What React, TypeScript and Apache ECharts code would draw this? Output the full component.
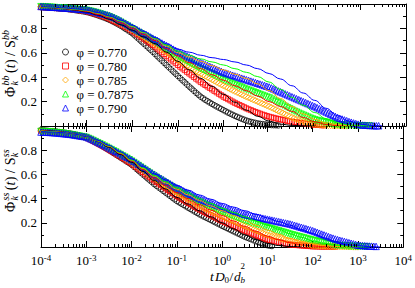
import React, { useEffect, useRef } from 'react';
import * as echarts from 'echarts';

// sampling times of the markers, as log10(t D0/db^2)
const LOG_T = [-4.00,-3.95,-3.90,-3.85,-3.80,-3.75,-3.70,-3.65,-3.60,-3.55,-3.50,-3.45,-3.40,-3.35,-3.30,-3.25,-3.20,-3.15,-3.10,-3.05,-3.00,-2.95,-2.90,-2.85,-2.80,-2.75,-2.70,-2.65,-2.60,-2.55,-2.50,-2.45,-2.40,-2.35,-2.30,-2.25,-2.20,-2.15,-2.10,-2.05,-2.00,-1.95,-1.90,-1.85,-1.80,-1.75,-1.70,-1.65,-1.60,-1.55,-1.50,-1.45,-1.40,-1.35,-1.30,-1.25,-1.20,-1.15,-1.10,-1.05,-1.00,-0.95,-0.90,-0.85,-0.80,-0.75,-0.70,-0.65,-0.60,-0.55,-0.50,-0.45,-0.40,-0.35,-0.30,-0.25,-0.20,-0.15,-0.10,-0.05,0.00,0.05,0.10,0.15,0.20,0.25,0.30,0.35,0.40,0.45,0.50,0.55,0.60,0.65,0.70,0.75,0.80,0.85,0.90,0.95,1.00,1.05,1.10,1.15,1.20,1.25,1.30,1.35,1.40,1.45,1.50,1.55,1.60,1.65,1.70,1.75,1.80,1.85,1.90,1.95,2.00,2.05,2.10,2.15,2.20,2.25,2.30,2.35,2.40,2.45,2.50,2.55,2.60,2.65,2.70,2.75,2.80,2.85,2.90,2.95,3.00,3.05,3.10,3.15,3.20,3.25,3.30,3.35,3.40];
// sampling times of the theory curves
const LINE_LOG_T = [-4,-3.75,-3.5,-3.25,-3,-2.75,-2.5,-2.25,-2,-1.75,-1.5,-1.25,-1,-0.75,-0.5,-0.25,0,0.25,0.5,0.75,1,1.25,1.5,1.75,2,2.25,2.5,2.75,3,3.25,3.5];

const PHI_LABELS = ['φ = 0.770', 'φ = 0.780', 'φ = 0.785', 'φ = 0.7875', 'φ = 0.790'];
const COLORS = ['#000000', '#ff0000', '#ffa500', '#00ff00', '#0000ff'];
const SYMBOLS = ['circle', 'rect', 'diamond', 'triangle', 'triangle'];
const SYMBOL_ROTATE = [0, 0, 0, 180, 0];
const SYMBOL_SIZE = [5.5, 5, 6.5, 6.5, 6.5];

// x-axis tick decades and minor multipliers
const DECADES = [-4, -3, -2, -1, 0, 1, 2, 3];
const MINOR_MULT = [2, 3, 4, 5, 6, 7, 8, 9];

// ---- top panel: Phi_k^bb(t)/S_k^bb, simulation markers ----
const BB_0770 = [0.975,0.974,0.973,0.972,0.971,0.970,0.968,0.967,0.965,0.964,0.962,0.960,0.958,0.956,0.953,0.950,0.947,0.944,0.941,0.938,0.935,0.930,0.925,0.919,0.913,0.907,0.900,0.893,0.886,0.878,0.870,0.861,0.852,0.842,0.832,0.821,0.809,0.797,0.785,0.773,0.760,0.744,0.727,0.710,0.693,0.676,0.659,0.642,0.625,0.608,0.590,0.572,0.554,0.536,0.518,0.500,0.482,0.464,0.446,0.428,0.410,0.393,0.375,0.358,0.340,0.323,0.306,0.289,0.272,0.256,0.240,0.227,0.215,0.203,0.192,0.181,0.170,0.160,0.150,0.140,0.130,0.120,0.110,0.101,0.092,0.083,0.075,0.067,0.059,0.052,0.045,0.039,0.034,0.029,0.025,0.021,0.018,0.015,0.013,0.011,0.010,0.008,0.007,0.006,0.005];
const BB_0780 = [0.975,0.974,0.972,0.971,0.970,0.969,0.967,0.966,0.965,0.964,0.962,0.961,0.959,0.957,0.955,0.953,0.950,0.948,0.945,0.943,0.940,0.935,0.930,0.925,0.920,0.914,0.908,0.902,0.895,0.888,0.880,0.871,0.862,0.853,0.843,0.833,0.823,0.813,0.802,0.791,0.780,0.768,0.755,0.742,0.729,0.716,0.703,0.690,0.677,0.664,0.650,0.635,0.620,0.605,0.590,0.575,0.560,0.545,0.530,0.515,0.500,0.486,0.472,0.458,0.444,0.430,0.416,0.402,0.388,0.374,0.360,0.348,0.336,0.324,0.312,0.300,0.288,0.276,0.264,0.252,0.240,0.230,0.220,0.210,0.200,0.190,0.181,0.172,0.163,0.154,0.145,0.137,0.130,0.122,0.115,0.108,0.101,0.094,0.088,0.082,0.076,0.071,0.067,0.062,0.058,0.054,0.050,0.046,0.042,0.038,0.035,0.032,0.030,0.027,0.025,0.022,0.020,0.017,0.015,0.012,0.010,0.009,0.008,0.006,0.005];
const BB_0785 = [0.977,0.976,0.974,0.973,0.972,0.971,0.969,0.968,0.967,0.966,0.964,0.963,0.961,0.959,0.957,0.955,0.953,0.951,0.949,0.947,0.945,0.941,0.936,0.931,0.926,0.920,0.914,0.908,0.902,0.895,0.888,0.880,0.871,0.862,0.853,0.843,0.833,0.823,0.812,0.801,0.790,0.779,0.767,0.755,0.743,0.731,0.719,0.707,0.694,0.682,0.670,0.657,0.644,0.631,0.618,0.605,0.592,0.579,0.566,0.553,0.540,0.529,0.518,0.507,0.496,0.485,0.474,0.463,0.452,0.441,0.430,0.420,0.410,0.400,0.390,0.380,0.370,0.360,0.350,0.340,0.330,0.321,0.312,0.303,0.294,0.285,0.276,0.267,0.258,0.249,0.240,0.232,0.224,0.216,0.208,0.200,0.192,0.184,0.176,0.168,0.160,0.151,0.142,0.133,0.124,0.115,0.106,0.097,0.088,0.079,0.070,0.063,0.056,0.050,0.043,0.037,0.031,0.027,0.022,0.019,0.015,0.013,0.011,0.010,0.008,0.007,0.005,0.004,0.003,0.003,0.002,0.002,0.002,0.001,0.001];
const BB_07875 = [0.978,0.977,0.976,0.974,0.973,0.972,0.971,0.969,0.968,0.967,0.966,0.964,0.963,0.961,0.959,0.957,0.956,0.954,0.952,0.950,0.948,0.944,0.940,0.935,0.930,0.925,0.919,0.913,0.907,0.901,0.895,0.887,0.878,0.869,0.860,0.850,0.840,0.829,0.818,0.807,0.795,0.785,0.774,0.764,0.753,0.743,0.732,0.722,0.711,0.701,0.690,0.678,0.666,0.654,0.642,0.630,0.618,0.606,0.594,0.582,0.570,0.560,0.550,0.540,0.530,0.520,0.510,0.500,0.490,0.480,0.470,0.461,0.452,0.443,0.434,0.425,0.416,0.407,0.398,0.389,0.380,0.372,0.364,0.356,0.348,0.340,0.332,0.324,0.316,0.308,0.300,0.293,0.286,0.279,0.272,0.265,0.258,0.251,0.244,0.237,0.230,0.220,0.210,0.200,0.190,0.180,0.170,0.160,0.150,0.140,0.130,0.121,0.113,0.104,0.096,0.088,0.080,0.072,0.064,0.057,0.050,0.045,0.041,0.036,0.032,0.028,0.024,0.020,0.016,0.013,0.010,0.009,0.008,0.007,0.006,0.005,0.004,0.003,0.003,0.002,0.002,0.002,0.002,0.001,0.001];
const BB_0790 = [0.980,0.979,0.978,0.977,0.975,0.974,0.973,0.972,0.970,0.969,0.968,0.967,0.965,0.964,0.962,0.961,0.959,0.957,0.955,0.954,0.952,0.948,0.944,0.940,0.935,0.930,0.925,0.920,0.915,0.910,0.905,0.897,0.889,0.880,0.871,0.862,0.852,0.842,0.831,0.821,0.810,0.800,0.790,0.780,0.770,0.760,0.750,0.740,0.730,0.720,0.710,0.700,0.690,0.680,0.670,0.660,0.650,0.640,0.630,0.620,0.610,0.601,0.592,0.583,0.574,0.565,0.556,0.547,0.538,0.529,0.520,0.512,0.504,0.496,0.488,0.480,0.472,0.464,0.456,0.448,0.440,0.434,0.428,0.422,0.416,0.410,0.404,0.398,0.392,0.386,0.380,0.374,0.368,0.362,0.356,0.350,0.344,0.338,0.332,0.326,0.320,0.312,0.304,0.296,0.288,0.280,0.272,0.264,0.256,0.248,0.240,0.232,0.224,0.216,0.208,0.200,0.192,0.184,0.176,0.168,0.160,0.151,0.142,0.133,0.124,0.115,0.106,0.097,0.088,0.079,0.070,0.063,0.057,0.050,0.044,0.037,0.031,0.025,0.020,0.015,0.010,0.008,0.007,0.006,0.005,0.004,0.003,0.002,0.002];

// ---- top panel: theory curves ----
const BB_LINE_0770 = [0.975,0.97,0.962,0.95,0.935,0.91,0.875,0.83,0.785,0.73,0.675,0.605,0.53,0.46,0.39,0.325,0.26,0.195,0.13,0.08,0.04,0.015,0.005,0.001,0];
const BB_LINE_0780 = [0.975,0.97,0.962,0.952,0.94,0.915,0.885,0.845,0.80,0.75,0.70,0.635,0.575,0.52,0.47,0.42,0.375,0.33,0.29,0.245,0.20,0.16,0.12,0.07,0.035,0.012,0.003,0];
const BB_LINE_0785 = [0.978,0.972,0.965,0.956,0.945,0.925,0.895,0.86,0.815,0.765,0.715,0.655,0.60,0.565,0.53,0.495,0.46,0.425,0.39,0.345,0.29,0.225,0.16,0.10,0.055,0.025,0.01,0.003,0];
const BB_LINE_07875 = [0.978,0.972,0.966,0.957,0.947,0.927,0.898,0.863,0.82,0.77,0.72,0.665,0.615,0.58,0.55,0.525,0.50,0.47,0.44,0.405,0.36,0.30,0.235,0.17,0.11,0.06,0.025,0.008,0.002,0];
const BB_LINE_0790 = [0.98,0.975,0.968,0.96,0.95,0.93,0.902,0.868,0.825,0.775,0.725,0.675,0.63,0.605,0.58,0.56,0.545,0.525,0.50,0.47,0.43,0.385,0.33,0.27,0.21,0.145,0.085,0.04,0.015,0.004,0];

// ---- bottom panel: Phi_k^ss(t)/S_k^ss, simulation markers ----
const SS_0770 = [0.965,0.964,0.962,0.960,0.958,0.957,0.955,0.953,0.950,0.948,0.945,0.943,0.940,0.937,0.933,0.929,0.925,0.920,0.915,0.910,0.905,0.896,0.886,0.876,0.866,0.856,0.845,0.834,0.823,0.812,0.800,0.789,0.777,0.765,0.753,0.741,0.729,0.717,0.705,0.693,0.680,0.664,0.648,0.632,0.616,0.600,0.584,0.568,0.552,0.536,0.520,0.506,0.492,0.478,0.464,0.450,0.436,0.422,0.408,0.394,0.380,0.369,0.358,0.347,0.336,0.325,0.314,0.303,0.292,0.281,0.270,0.261,0.251,0.242,0.232,0.223,0.213,0.204,0.194,0.185,0.175,0.166,0.157,0.148,0.139,0.130,0.121,0.112,0.103,0.094,0.085,0.078,0.070,0.063,0.055,0.048,0.040,0.034,0.027,0.021,0.015,0.011,0.008];
const SS_0780 = [0.960,0.959,0.958,0.957,0.955,0.953,0.951,0.949,0.947,0.945,0.942,0.939,0.936,0.933,0.929,0.925,0.921,0.917,0.913,0.909,0.905,0.896,0.887,0.877,0.867,0.857,0.847,0.837,0.826,0.816,0.805,0.794,0.783,0.772,0.760,0.749,0.737,0.725,0.713,0.702,0.690,0.676,0.662,0.648,0.634,0.620,0.606,0.592,0.578,0.564,0.550,0.537,0.524,0.511,0.498,0.485,0.472,0.459,0.446,0.433,0.420,0.409,0.398,0.387,0.376,0.365,0.354,0.343,0.332,0.321,0.310,0.301,0.291,0.282,0.272,0.263,0.253,0.244,0.234,0.225,0.215,0.207,0.199,0.191,0.183,0.175,0.167,0.159,0.151,0.143,0.135,0.128,0.120,0.113,0.105,0.098,0.090,0.083,0.075,0.068,0.060,0.056,0.052,0.048,0.044,0.040,0.036,0.032,0.028,0.024,0.020,0.019,0.017,0.016,0.014,0.013,0.011,0.010,0.008,0.007,0.005,0.005,0.004,0.004,0.003,0.003,0.003,0.003,0.002,0.002,0.002];
const SS_0785 = [0.958,0.957,0.956,0.955,0.953,0.951,0.949,0.947,0.945,0.943,0.940,0.937,0.934,0.931,0.927,0.924,0.920,0.917,0.913,0.909,0.905,0.897,0.888,0.879,0.869,0.860,0.850,0.840,0.830,0.820,0.810,0.800,0.789,0.778,0.767,0.756,0.745,0.734,0.722,0.711,0.700,0.687,0.674,0.661,0.648,0.635,0.622,0.609,0.596,0.583,0.570,0.558,0.546,0.534,0.522,0.510,0.498,0.486,0.474,0.462,0.450,0.439,0.428,0.417,0.406,0.395,0.384,0.373,0.362,0.351,0.340,0.332,0.323,0.315,0.306,0.298,0.289,0.281,0.272,0.264,0.255,0.247,0.239,0.231,0.223,0.215,0.207,0.199,0.191,0.183,0.175,0.168,0.160,0.153,0.145,0.138,0.130,0.123,0.115,0.108,0.100,0.095,0.090,0.085,0.080,0.075,0.070,0.065,0.060,0.055,0.050,0.047,0.043,0.040,0.036,0.033,0.029,0.026,0.022,0.019,0.015,0.014,0.012,0.011,0.010,0.009,0.008,0.007,0.005,0.004,0.003,0.003,0.003,0.003,0.002,0.002,0.002,0.002,0.001,0.001,0.001];
const SS_07875 = [0.955,0.954,0.953,0.952,0.950,0.949,0.947,0.945,0.943,0.941,0.938,0.935,0.932,0.929,0.926,0.923,0.919,0.916,0.912,0.909,0.905,0.897,0.889,0.880,0.871,0.862,0.853,0.844,0.834,0.825,0.815,0.805,0.795,0.785,0.774,0.764,0.753,0.743,0.732,0.721,0.710,0.698,0.685,0.673,0.660,0.648,0.635,0.623,0.610,0.598,0.585,0.574,0.562,0.551,0.539,0.528,0.516,0.505,0.493,0.482,0.470,0.460,0.450,0.440,0.430,0.420,0.410,0.400,0.390,0.380,0.370,0.362,0.354,0.346,0.338,0.330,0.322,0.314,0.306,0.298,0.290,0.283,0.276,0.269,0.262,0.255,0.248,0.241,0.234,0.227,0.220,0.214,0.208,0.202,0.196,0.190,0.184,0.178,0.172,0.166,0.160,0.155,0.149,0.144,0.138,0.133,0.127,0.122,0.116,0.111,0.105,0.100,0.095,0.090,0.085,0.080,0.075,0.070,0.065,0.060,0.055,0.051,0.047,0.043,0.039,0.035,0.031,0.027,0.023,0.019,0.015,0.014,0.012,0.011,0.009,0.008,0.007,0.006,0.005,0.004,0.003,0.003,0.002,0.002,0.002];
const SS_0790 = [0.950,0.950,0.949,0.948,0.947,0.946,0.944,0.943,0.941,0.939,0.937,0.935,0.933,0.931,0.928,0.925,0.922,0.919,0.916,0.913,0.910,0.902,0.894,0.886,0.877,0.868,0.859,0.850,0.840,0.830,0.820,0.811,0.801,0.791,0.781,0.771,0.761,0.751,0.741,0.731,0.720,0.708,0.696,0.684,0.672,0.660,0.648,0.636,0.624,0.612,0.600,0.589,0.578,0.567,0.556,0.545,0.534,0.523,0.512,0.501,0.490,0.481,0.472,0.463,0.454,0.445,0.436,0.427,0.418,0.409,0.400,0.393,0.386,0.379,0.372,0.365,0.358,0.351,0.344,0.337,0.330,0.324,0.318,0.312,0.306,0.300,0.294,0.288,0.282,0.276,0.270,0.266,0.262,0.258,0.254,0.250,0.246,0.242,0.238,0.234,0.230,0.226,0.222,0.218,0.214,0.210,0.206,0.202,0.198,0.194,0.190,0.185,0.179,0.174,0.168,0.163,0.157,0.152,0.146,0.141,0.135,0.128,0.121,0.114,0.107,0.100,0.093,0.086,0.079,0.073,0.066,0.061,0.056,0.051,0.046,0.041,0.036,0.031,0.026,0.021,0.015,0.014,0.012,0.011,0.009,0.008,0.007,0.006,0.005];

// ---- bottom panel: theory curves ----
const SS_LINE_0770 = [0.965,0.958,0.948,0.932,0.91,0.875,0.825,0.765,0.70,0.625,0.55,0.48,0.41,0.355,0.30,0.25,0.20,0.15,0.10,0.06,0.03,0.012,0.004,0];
const SS_LINE_0780 = [0.962,0.955,0.947,0.932,0.91,0.877,0.83,0.772,0.71,0.64,0.57,0.51,0.45,0.40,0.35,0.305,0.26,0.215,0.17,0.13,0.09,0.06,0.035,0.018,0.008,0.002,0];
const SS_LINE_0785 = [0.96,0.954,0.946,0.931,0.91,0.878,0.833,0.777,0.717,0.65,0.585,0.53,0.478,0.43,0.385,0.34,0.30,0.26,0.22,0.18,0.14,0.105,0.07,0.045,0.025,0.012,0.005,0.001,0];
const SS_LINE_07875 = [0.958,0.952,0.945,0.931,0.91,0.879,0.835,0.78,0.72,0.655,0.592,0.54,0.49,0.445,0.40,0.36,0.32,0.285,0.25,0.215,0.18,0.145,0.11,0.08,0.05,0.03,0.015,0.006,0.002,0];
const SS_LINE_0790 = [0.955,0.95,0.945,0.932,0.912,0.882,0.84,0.787,0.728,0.665,0.605,0.555,0.51,0.47,0.43,0.395,0.36,0.33,0.30,0.27,0.24,0.21,0.18,0.145,0.11,0.075,0.045,0.022,0.01,0.003,0];

const BB_MARKERS = [BB_0770, BB_0780, BB_0785, BB_07875, BB_0790];
const BB_LINES = [BB_LINE_0770, BB_LINE_0780, BB_LINE_0785, BB_LINE_07875, BB_LINE_0790];
const SS_MARKERS = [SS_0770, SS_0780, SS_0785, SS_07875, SS_0790];
const SS_LINES = [SS_LINE_0770, SS_LINE_0780, SS_LINE_0785, SS_LINE_07875, SS_LINE_0790];

const FONT = 'Liberation Serif';

function pairs(logT: number[], vals: number[]) {
  return vals.map((v, j) => [Math.pow(10, logT[j]), v]);
}

function xAxis(gridIndex: number, position: string, showLabel: boolean) {
  return {
    type: 'log',
    logBase: 10,
    gridIndex,
    position,
    min: 1e-4,
    max: 1e4,
    interval: 1,
    axisLine: { show: true, onZero: false, lineStyle: { color: '#000', width: 1 } },
    axisTick: { show: true, inside: true, length: 6, lineStyle: { color: '#000', width: 1 } },
    minorTick: { show: false },
    splitLine: { show: false },
    axisLabel: {
      show: showLabel,
      margin: 6,
      formatter: (v: number) => {
        const e = Math.round(Math.log10(v));
        return `{b|10}{s|${e}}`;
      },
      rich: {
        b: { fontFamily: FONT, fontSize: 13, lineHeight: 14, color: '#000' },
        s: { fontFamily: FONT, fontSize: 9, lineHeight: 9, verticalAlign: 'top', color: '#000' },
      },
    },
  };
}

function yAxis(gridIndex: number, position: string, showLabel: boolean) {
  return {
    type: 'value',
    gridIndex,
    position,
    min: 0,
    max: 1,
    interval: 0.2,
    axisLine: { show: true, onZero: false, lineStyle: { color: '#000', width: 1 } },
    axisTick: { show: true, inside: true, length: 6, lineStyle: { color: '#000', width: 1 } },
    minorTick: { show: true, splitNumber: 2, length: 3, lineStyle: { color: '#000', width: 1 } },
    splitLine: { show: false },
    axisLabel: {
      show: showLabel,
      margin: 4,
      fontFamily: FONT,
      fontSize: 13,
      color: '#000',
      formatter: (v: number) => (v < 0.01 || v > 0.99 ? '' : v.toFixed(1)),
    },
  };
}

type Piece = { t: string; x: number; y: number; s: number; i?: boolean };

function texts(pieces: Piece[]) {
  return pieces.map((p) => ({
    type: 'text',
    x: p.x,
    y: p.y,
    style: {
      text: p.t,
      fontFamily: FONT,
      fontSize: p.s,
      fontStyle: p.i ? 'italic' : 'normal',
      fill: '#000',
      align: 'left',
      verticalAlign: 'middle',
    },
  }));
}

// y-axis title laid out along its own baseline; w = width of the superscript
function yTitle(sup: string, w: number) {
  const p = 12 + w + 2;
  return [
    { t: 'Φ', x: 0, y: 0, s: 14 },
    { t: sup, x: 11.5, y: -4.5, s: 10, i: true },
    { t: 'k', x: 11.5, y: 4.5, s: 10, i: true },
    { t: '(', x: p, y: 0, s: 14 },
    { t: 't', x: p + 4.8, y: 0, s: 14, i: true },
    { t: ')', x: p + 9, y: 0, s: 14 },
    { t: '/', x: p + 17, y: 0, s: 14 },
    { t: 'S', x: p + 25, y: 0, s: 14 },
    { t: sup, x: p + 33, y: -4.5, s: 10, i: true },
    { t: 'k', x: p + 33, y: 4.5, s: 10, i: true },
  ];
}

function buildOption() {
  const minorT: number[][] = [];
  DECADES.forEach((d) => MINOR_MULT.forEach((m) => minorT.push([m * Math.pow(10, d), 0])));

  const minorTickSeries = (xi: number, yi: number) => ({
    type: 'custom',
    xAxisIndex: xi,
    yAxisIndex: yi,
    silent: true,
    z: 10,
    data: minorT,
    renderItem: (_p: any, api: any) => {
      const t = api.value(0);
      const b = api.coord([t, 0]);
      const tp = api.coord([t, 1]);
      const x = Math.round(b[0]) + 0.5;
      return {
        type: 'group',
        children: [
          { type: 'line', shape: { x1: x, y1: b[1], x2: x, y2: b[1] - 3 }, style: { stroke: '#000', lineWidth: 1 } },
          { type: 'line', shape: { x1: x, y1: tp[1], x2: x, y2: tp[1] + 3 }, style: { stroke: '#000', lineWidth: 1 } },
        ],
      };
    },
  });

  const markerSeries = (sets: number[][], xi: number, yi: number) =>
    sets.map((vals, i) => ({
      type: 'scatter',
      name: PHI_LABELS[i],
      xAxisIndex: xi,
      yAxisIndex: yi,
      symbol: SYMBOLS[i],
      symbolRotate: SYMBOL_ROTATE[i],
      symbolSize: SYMBOL_SIZE[i],
      itemStyle: { color: 'rgba(0,0,0,0)', borderColor: COLORS[i], borderWidth: 1 },
      silent: true,
      data: pairs(LOG_T, vals),
    }));

  const lineSeries = (sets: number[][], xi: number, yi: number, tag: string) =>
    sets.map((vals, i) => ({
      type: 'line',
      name: `${tag} ${PHI_LABELS[i]}`,
      xAxisIndex: xi,
      yAxisIndex: yi,
      showSymbol: false,
      symbol: 'none',
      smooth: 0.4,
      smoothMonotone: 'x',
      lineStyle: { color: COLORS[i], width: 1 },
      silent: true,
      data: pairs(LINE_LOG_T, vals),
    }));

  return {
    animation: false,
    backgroundColor: '#ffffff',
    grid: [
      { left: 41, top: 4, width: 365, height: 122 },
      { left: 41, top: 126, width: 365, height: 121 },
    ],
    xAxis: [xAxis(0, 'bottom', false), xAxis(0, 'top', false), xAxis(1, 'bottom', true), xAxis(1, 'top', false)],
    yAxis: [yAxis(0, 'left', true), yAxis(0, 'right', false), yAxis(1, 'left', true), yAxis(1, 'right', false)],
    legend: {
      data: PHI_LABELS,
      orient: 'vertical',
      left: 62,
      top: 45,
      padding: 0,
      itemGap: 0,
      itemWidth: 6,
      itemHeight: 6,
      selectedMode: false,
      itemStyle: { borderWidth: 1 },
      formatter: (name: string) => `{g|\u00a0}{a|${name}}`,
      textStyle: {
        fontFamily: FONT,
        fontSize: 13,
        lineHeight: 14,
        color: '#000',
        rich: {
          g: { fontFamily: FONT, fontSize: 13, lineHeight: 14, width: 3 },
          a: { fontFamily: FONT, fontSize: 13, lineHeight: 14, color: '#000' },
        },
      },
    },
    graphic: [
      { type: 'group', x: 10, y: 97, rotation: Math.PI / 2, children: texts(yTitle('bb', 10)) },
      { type: 'group', x: 10, y: 212, rotation: Math.PI / 2, children: texts(yTitle('ss', 7.8)) },
      {
        type: 'group',
        x: 0,
        y: 0,
        children: texts([
          { t: 't', x: 210, y: 276, s: 13.5, i: true },
          { t: 'D', x: 215, y: 276, s: 13.5, i: true },
          { t: '0', x: 224.5, y: 280, s: 9 },
          { t: '/', x: 229.5, y: 276, s: 13.5 },
          { t: 'd', x: 234, y: 276, s: 13.5, i: true },
          { t: 'b', x: 240.5, y: 280, s: 9, i: true },
          { t: '2', x: 240.5, y: 266, s: 9 },
        ]),
      },
    ],
    series: [
      ...markerSeries(BB_MARKERS, 0, 0),
      ...lineSeries(BB_LINES, 0, 0, 'bb theory'),
      ...markerSeries(SS_MARKERS, 2, 2),
      ...lineSeries(SS_LINES, 2, 2, 'ss theory'),
      minorTickSeries(0, 0),
      minorTickSeries(2, 2),
    ],
  };
}

export default function App() {
  const ref = useRef<HTMLDivElement>(null);
  useEffect(() => {
    if (!ref.current) return;
    const chart = echarts.init(ref.current, null, { renderer: 'svg' });
    chart.setOption(buildOption() as any);
    return () => chart.dispose();
  }, []);
  return <div ref={ref} style={{ position: 'fixed', left: 0, top: 0, width: 415, height: 288 }} />;
}
